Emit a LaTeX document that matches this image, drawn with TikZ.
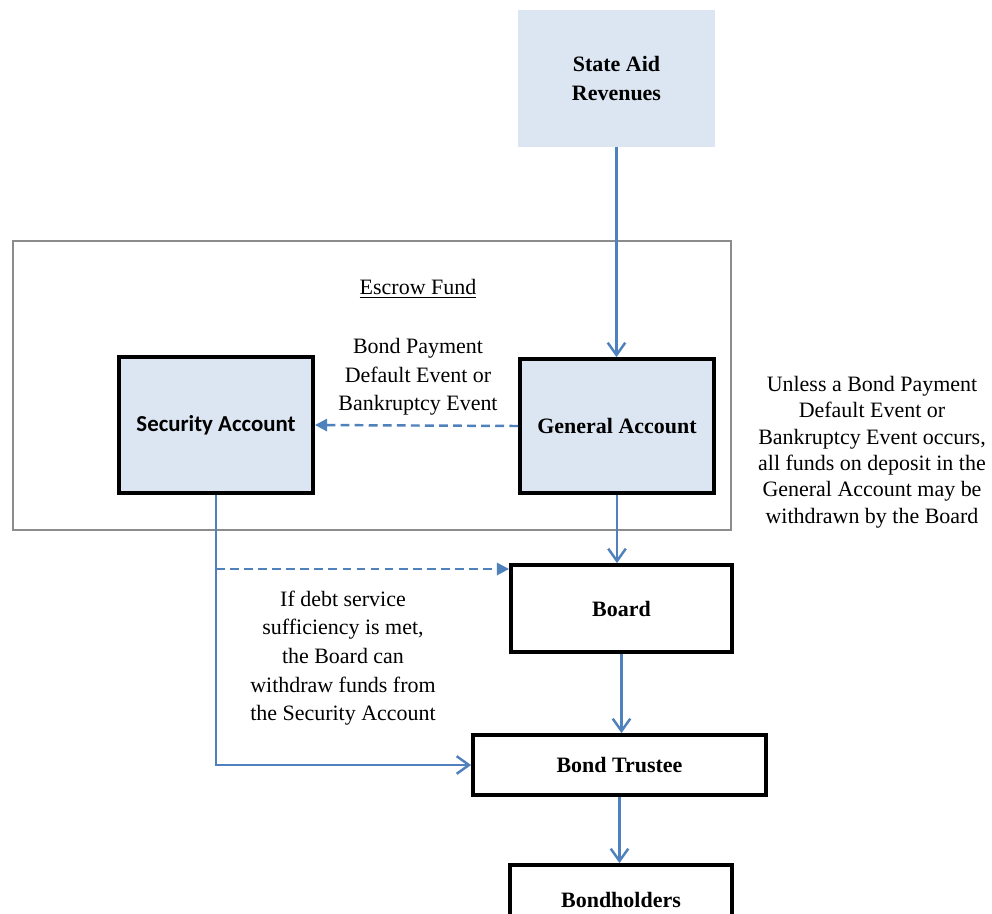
\documentclass[tikz,border=0pt]{standalone}
\usepackage{fontspec}
\setmainfont{Liberation Serif}
\newfontfamily\calibfont{Carlito}
\usetikzlibrary{arrows.meta}
\definecolor{fillblue}{HTML}{DCE6F2}
\definecolor{lineblue}{HTML}{4F81BD}
\definecolor{framegray}{HTML}{8C8C8C}
\tikzset{
  acct/.style={draw=black, line width=2.2pt, fill=fillblue, inner sep=0pt, font=\fontsize{12.5}{15}\selectfont\bfseries},
  party/.style={draw=black, line width=2.2pt, fill=white, inner sep=0pt, font=\fontsize{12.5}{15}\selectfont\bfseries},
  flow/.style={lineblue, line width=1.4pt, -{Straight Barb[length=7pt,width=10pt]}},
  trigger/.style={lineblue, line width=1.4pt, dash pattern=on 5pt off 3pt, -{Triangle[length=7pt,width=7pt]}},
  note/.style={align=center, font=\fontsize{12.5}{16.3}\selectfont},
}
\begin{document}
\begin{tikzpicture}[x=0.02cm, y=-0.02cm, font=\fontsize{12.5}{15}\selectfont]
  \useasboundingbox[fill=white] (0,0) rectangle (992,914);
  \clip (0,0) rectangle (992,914);
  \node[fill=fillblue, minimum width=3.94cm, minimum height=2.74cm, align=center, font=\fontsize{12.5}{17}\selectfont\bfseries] (state) at (616.5,78.5) {State Aid\\Revenues};
  \node[draw=framegray, line width=1.1pt, minimum width=14.36cm, minimum height=5.78cm] (escrow) at (372,385.5) {};
  \node (escrowlbl) at (418,289) {\underline{Escrow Fund}};
  \node[acct, minimum width=3.88cm, minimum height=2.72cm, font=\calibfont\fontsize{13}{15}\selectfont\bfseries] (sec) at (216,425) {Security Account};
  \node[acct, minimum width=3.88cm, minimum height=2.68cm] (gen) at (617,426) {General Account};
  \node[party, minimum width=4.42cm, minimum height=1.74cm] (board) at (621.5,608.5) {Board};
  \node[party, minimum width=5.86cm, minimum height=1.2cm] (trustee) at (619.5,765) {Bond Trustee};
  \node[party, minimum width=4.44cm, minimum height=1.4cm] (holders) at (621,900) {Bondholders};
  \node[note] (event) at (418,377) {Bond Payment\\Default Event or\\Bankruptcy Event};
  \node[note, font=\fontsize{12.5}{15}\selectfont] (unless) at (872,452) {Unless a Bond Payment\\Default Event or\\Bankruptcy Event occurs,\\all funds on deposit in the\\General Account may be\\withdrawn by the Board};
  \node[note] (suff) at (343,658) {If debt service\\sufficiency is met,\\the Board can\\withdraw funds from\\the Security Account};
  \coordinate (tap) at (216,569);
  \draw[flow] (state.south) -- (state.south |- gen.north);
  \draw[flow] (gen.south) -- (gen.south |- board.north);
  \draw[flow] (board.south) -- (board.south |- trustee.north);
  \draw[flow] (trustee.south) -- (trustee.south |- holders.north);
  \draw[trigger] (gen.west) -- (sec.east);
  \draw[trigger] (tap) -- (tap -| board.west);
  \draw[flow] (sec.south) |- (trustee.west);
\end{tikzpicture}
\end{document}
